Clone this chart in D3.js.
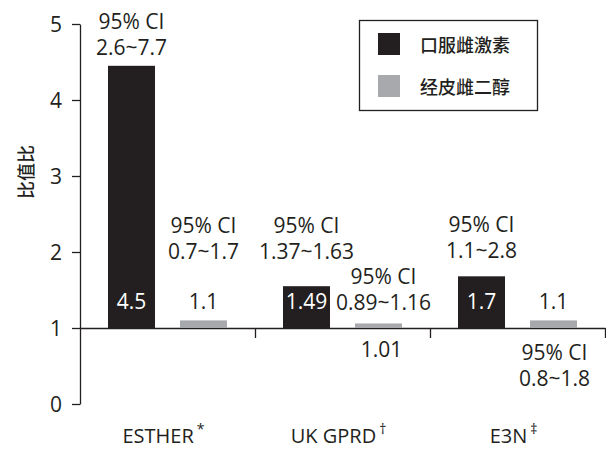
<!DOCTYPE html>
<html><head><meta charset="utf-8">
<script src="https://cdn.jsdelivr.net/npm/d3@7"></script>
<style>
html,body{margin:0;padding:0;background:#fff;}
svg{display:block;}
text{font-family:"Open Sans","Noto Sans",sans-serif;}
.cjk{font-family:"Noto Sans CJK SC","Noto Sans",sans-serif;}
</style>
</head><body>
<div id="chart"></div>
<script>
// ---------- data ----------
const categories = ["ESTHER", "UK GPRD", "E3N"];
const superscripts = ["*", "\u2020", "\u2021"];
const series = ["口服雌激素", "经皮雌二醇"];
const oralValues = [4.45, 1.55, 1.68];     // bar heights
const transValues = [1.1, 1.06, 1.1];
const oralLabels = ["4.5", "1.49", "1.7"];
const transLabels = ["1.1", "1.01", "1.1"];
const oralCI = ["2.6~7.7", "1.37~1.63", "1.1~2.8"];
const transCI = ["0.7~1.7", "0.89~1.16", "0.8~1.8"];
const yTicks = [0, 1, 2, 3, 4, 5];
const yTitle = "比值比";
const ciTitle = "95% CI";

// ---------- layout ----------
const W = 606, H = 449;
const ink = "#231f20", grey = "#a7a9ac";
const svg = d3.select("#chart").append("svg").attr("width", W).attr("height", H);

const y = d3.scaleLinear().domain([0, 5]).range([404, 24]);
const x0 = d3.scaleBand().domain(categories).range([80, 605]);
const x1 = d3.scaleBand().domain(series).range([28, 147]).paddingInner(0.347);
const colors = d3.scaleOrdinal().domain(series).range([ink, grey]);
const edge = d3.scaleLinear().domain([0, categories.length]).range([80, 605]);

// y axis
const ya = svg.append("g").attr("transform", "translate(80,0)")
  .call(d3.axisLeft(y).tickValues(yTicks).tickFormat(d3.format("d")).tickSize(8).tickSizeOuter(0).tickPadding(10));
ya.selectAll("path,line").attr("stroke", ink).attr("stroke-width", 1.3);
ya.selectAll("text").attr("font-size", 21).attr("dy", "0.36em")
  .style("font-family", '"Open Sans",sans-serif').style("fill", ink);

// baseline at OR = 1
const xa = svg.append("g").attr("transform", `translate(0,${y(1)})`)
  .call(d3.axisBottom(edge).tickValues(d3.range(1, categories.length + 1)).tickFormat("").tickSize(10).tickSizeOuter(0));
xa.selectAll("path,line").attr("stroke", ink).attr("stroke-width", 1.3);

// y title
svg.append("text").attr("class", "cjk")
  .attr("transform", `translate(25,${(y(0) + y(5)) / 2 - 42}) rotate(-90)`)
  .attr("text-anchor", "middle").attr("dominant-baseline", "central")
  .attr("font-size", 18).attr("font-weight", 500).style("fill", ink).text(yTitle);

// bars
const rows = categories.map((c, i) => ({
  c, i,
  vals: [
    { s: series[0], v: oralValues[i] },
    { s: series[1], v: transValues[i] }
  ]
}));
const g = svg.append("g").selectAll("g").data(rows).join("g")
  .attr("transform", d => `translate(${x0(d.c)},0)`);
g.selectAll("rect").data(d => d.vals).join("rect")
  .attr("x", d => x1(d.s)).attr("width", x1.bandwidth())
  .attr("y", d => y(d.v)).attr("height", d => y(1) - y(d.v))
  .attr("fill", d => colors(d.s));

// annotations
const fs = 21;
function cx(i, s) { return x0(categories[i]) + x1(s) + x1.bandwidth() / 2; }
function label(x, yy, txt, col) {
  svg.append("text").attr("x", x).attr("y", yy).attr("text-anchor", "middle")
    .attr("font-size", fs).style("fill", col || ink).text(txt);
}
function ci(x, yy, txt) { // yy = baseline of second line
  label(x, yy - 26, ciTitle);
  label(x, yy, txt);
}
// oral
const oralLabelY = y(1) - 19;
oralLabels.forEach((t, i) => label(cx(i, series[0]), oralLabelY, t, "#ffffff"));
ci(cx(0, series[0]), y(oralValues[0]) - 11, oralCI[0]);
ci(cx(1, series[0]), y(oralValues[1]) - 27, oralCI[1]);
ci(cx(2, series[0]), y(oralValues[2]) - 18, oralCI[2]);
// transdermal
label(cx(0, series[1]), y(1) - 19, transLabels[0]);
ci(cx(0, series[1]), y(1) - 69, transCI[0]);
label(cx(1, series[1]) + 3, y(1) + 29, transLabels[1]);
ci(cx(1, series[1]) + 5, y(1) - 18, transCI[1]);
label(cx(2, series[1]), y(1) - 19, transLabels[2]);
ci(cx(2, series[1]) + 1, y(1) + 58, transCI[2]);

// category labels
categories.forEach((c, i) => {
  const t = svg.append("text").attr("x", x0(c) + x0.bandwidth() / 2 - 4).attr("y", 443)
    .attr("text-anchor", "middle").attr("font-size", 20).style("fill", ink);
  t.append("tspan").text(c);
  t.append("tspan").attr("dx", 3).attr("dy", -9).attr("font-size", 14).text(superscripts[i]);
});

// legend
const lg = svg.append("g");
lg.append("rect").attr("x", 359.5).attr("y", 20.5).attr("width", 178).attr("height", 90)
  .attr("fill", "none").attr("stroke", ink).attr("stroke-width", 1.3);
series.forEach((s, i) => {
  lg.append("rect").attr("x", 378).attr("y", 33 + i * 42).attr("width", 22).attr("height", 22).attr("fill", colors(s));
  lg.append("text").attr("class", "cjk").attr("x", 420).attr("y", 44 + i * 42)
    .attr("dominant-baseline", "central").attr("font-size", 18).attr("font-weight", 500)
    .style("fill", ink).text(s);
});
</script>
</body></html>
